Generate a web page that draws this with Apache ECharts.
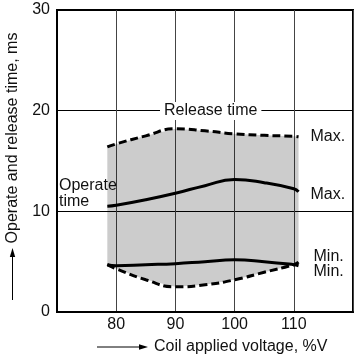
<!DOCTYPE html>
<html>
<head>
<meta charset="utf-8">
<script src="https://cdn.jsdelivr.net/npm/echarts@6/dist/echarts.min.js"></script>
<style>
  html, body { margin: 0; padding: 0; background: #fff; }
  #main { width: 356px; height: 357px; }
</style>
</head>
<body>
<div id="main"></div>
<script>
// coil applied voltage, %V
var voltage = [78.5, 80, 85, 90, 95, 100, 105, 110, 110.8];
// release time, ms
var releaseMax = [16.4, 16.7, 17.5, 18.2, 18.0, 17.7, 17.55, 17.45, 17.4];
var releaseMin = [4.7, 4.3, 3.2, 2.5, 2.7, 3.2, 3.95, 4.7, 4.95];
// operate time, ms
var operateMax = [10.5, 10.6, 11.15, 11.8, 12.55, 13.15, 12.85, 12.25, 11.95];
var operateMin = [4.7, 4.6, 4.7, 4.8, 5.0, 5.18, 5.0, 4.7, 4.6];

var yTicks = [0, 10, 20, 30];
var xTicks = [80, 90, 100, 110];

var FONT = 'Liberation Sans, Arial, sans-serif';

function pairs(ys) {
  return voltage.map(function (v, i) { return [v, ys[i]]; });
}

var chart = echarts.init(document.getElementById('main'));

var dashStyle = { color: '#000', width: 3, type: [8, 4], cap: 'butt' };
var solidStyle = { color: '#000', width: 3, cap: 'butt' };

function lineSeries(name, ys, style, label, offX, offY) {
  return {
    name: name,
    type: 'line',
    data: pairs(ys),
    smooth: true,
    symbol: 'none',
    lineStyle: style,
    z: 5,
    endLabel: {
      show: true,
      formatter: label,
      distance: offX,
      offset: [0, offY],
      color: '#111',
      fontFamily: FONT,
      fontSize: 16
    }
  };
}

var option = {
  animation: false,
  grid: {
    left: 57, right: -3, top: 10, bottom: 45,
    show: true, borderColor: '#000', borderWidth: 2
  },
  xAxis: {
    type: 'value',
    min: 70, max: 120, interval: 10,
    axisLine: { lineStyle: { color: '#000', width: 2 } },
    axisTick: { show: false },
    axisLabel: {
      margin: 5, color: '#111', fontFamily: FONT, fontSize: 16,
      formatter: function (v) { return xTicks.indexOf(v) >= 0 ? String(v) : ''; }
    },
    splitLine: { show: true, lineStyle: { color: '#444', width: 1 } }
  },
  yAxis: {
    type: 'value',
    min: 0, max: 30, interval: 10,
    axisLine: { show: true, lineStyle: { color: '#000', width: 2 } },
    axisTick: { show: false },
    axisLabel: {
      margin: 7, color: '#111', fontFamily: FONT, fontSize: 16,
      formatter: function (v) { return yTicks.indexOf(v) >= 0 ? String(v) : ''; }
    },
    splitLine: { show: true, lineStyle: { color: '#000', width: 1 } }
  },
  series: [
    {
      // grey band between release max and release min
      type: 'custom',
      data: [0],
      z: 2,
      silent: true,
      renderItem: function (params, api) {
        var pts = [];
        for (var i = 0; i < voltage.length; i++) pts.push(api.coord([voltage[i], releaseMax[i]]));
        for (var j = voltage.length - 1; j >= 0; j--) pts.push(api.coord([voltage[j], releaseMin[j]]));
        return {
          type: 'polygon',
          shape: { points: pts },
          style: { fill: 'rgba(0,0,0,0.2)' }
        };
      }
    },
    lineSeries('Release max', releaseMax, dashStyle, 'Max.', 12, 0),
    lineSeries('Operate max', operateMax, solidStyle, 'Max.', 12, 3),
    lineSeries('Release min', releaseMin, dashStyle, 'Min.', 15, -6),
    lineSeries('Operate min', operateMin, solidStyle, 'Min.', 15, 6)
  ],
  graphic: [
    {
      type: 'text', left: 160, top: 102, z: 10,
      style: {
        text: 'Release time', fill: '#111', font: '16px ' + FONT,
        backgroundColor: '#fff', padding: [1, 4, 1, 4]
      }
    },
    {
      type: 'text', left: 59, top: 178, z: 10,
      style: { text: 'Operate\ntime', fill: '#111', font: '16px ' + FONT, lineHeight: 15.5 }
    },
    {
      type: 'text', x: 13, y: 138, rotation: Math.PI / 2,
      style: {
        text: 'Operate and release time, ms', fill: '#111', font: '16px ' + FONT,
        align: 'center', verticalAlign: 'middle'
      }
    },
    {
      type: 'text', x: 154, y: 347,
      style: {
        text: 'Coil applied voltage, %V', fill: '#111', font: '16px ' + FONT,
        align: 'left', verticalAlign: 'middle'
      }
    },
    { type: 'line', shape: { x1: 12.5, y1: 300, x2: 12.5, y2: 255 }, style: { stroke: '#000', lineWidth: 1 } },
    { type: 'polygon', shape: { points: [[12.5, 248], [9.8, 257], [15.2, 257]] }, style: { fill: '#000' } },
    { type: 'line', shape: { x1: 97, y1: 347, x2: 141, y2: 347 }, style: { stroke: '#000', lineWidth: 1 } },
    { type: 'polygon', shape: { points: [[148, 347], [139, 344.3], [139, 349.7]] }, style: { fill: '#000' } }
  ]
};

chart.setOption(option);
</script>
</body>
</html>
